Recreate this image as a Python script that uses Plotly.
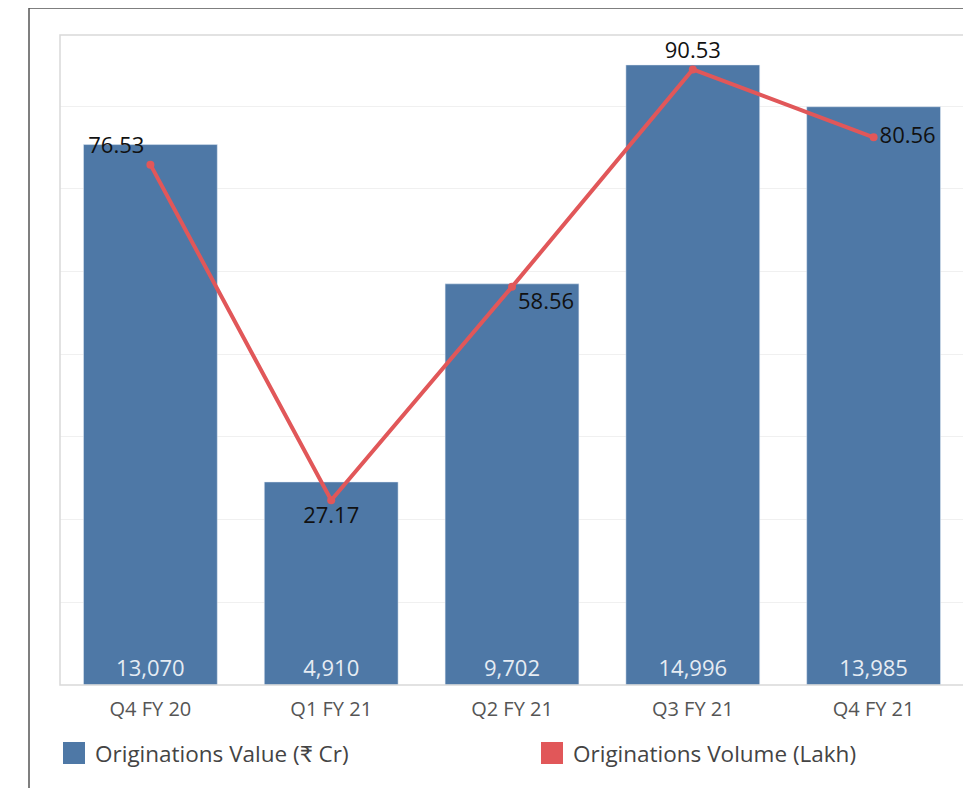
import plotly.graph_objects as go

quarters = ["Q4 FY 20", "Q1 FY 21", "Q2 FY 21", "Q3 FY 21", "Q4 FY 21"]
orig_value = [13070, 4910, 9702, 14996, 13985]
orig_volume = [76.53, 27.17, 58.56, 90.53, 80.56]
vol_label_pos = ["top left", "bottom center", "bottom right", "top center", "middle right"]
legend_names = ["Originations Value (₹ Cr)", "Originations Volume (Lakh)"]

BLUE = "#4E78A6"
RED = "#E15759"
FONT = "Open Sans, Lato, sans-serif"

# window pixel geometry (page body has an 8px margin)
OFF = 8
W, H = 971 - OFF, 788 - OFF
PL, PR, PT, PB = 60, 964, 35, 685  # plot area in window px


def px(x):
    return (x - PL) / (PR - PL)


def py(y):
    return (PB - y) / (PB - PT)


fig = go.Figure()
fig.add_trace(go.Bar(
    x=quarters, y=orig_value, marker_color=BLUE, name=legend_names[0],
    text=[f"{v:,}" for v in orig_value], textposition="inside",
    insidetextanchor="start", textangle=0,
    textfont=dict(color="#E6ECF3", size=22, family=FONT),
    showlegend=False, yaxis="y",
))
fig.add_trace(go.Scatter(
    x=quarters, y=orig_volume, mode="lines+markers+text", name=legend_names[1],
    line=dict(color=RED, width=4), marker=dict(color=RED, size=8),
    text=[f"{v:.2f}" for v in orig_volume], textposition=vol_label_pos,
    textfont=dict(color="#111111", size=22, family=FONT),
    showlegend=False, yaxis="y2", cliponaxis=False,
))

# manual legend
for name, col, x0 in zip(legend_names, [BLUE, RED], [63, 541]):
    fig.add_shape(type="rect", xref="paper", yref="paper",
                  x0=px(x0), x1=px(x0 + 22), y0=py(764), y1=py(742),
                  fillcolor=col, line=dict(width=0))
    fig.add_annotation(xref="paper", yref="paper", x=px(x0 + 30), y=py(753),
                       text=name, showarrow=False, xanchor="left", yanchor="middle",
                       font=dict(size=22.5, color="#444444", family=FONT))

# outer frame lines
fig.add_shape(type="line", xref="paper", yref="paper",
              x0=px(29), x1=px(29), y0=py(800), y1=py(8),
              line=dict(color="#555555", width=1.5))
fig.add_shape(type="line", xref="paper", yref="paper",
              x0=px(29), x1=px(975), y0=py(8), y1=py(8),
              line=dict(color="#555555", width=1.5))
# plot area border
fig.add_shape(type="rect", xref="paper", yref="paper", x0=0, x1=1, y0=0, y1=1,
              line=dict(color="#D9D9D9", width=1.5), layer="above")

fig.update_layout(
    width=W, height=H,
    margin=dict(l=PL - OFF, r=W - (PR - OFF), t=PT - OFF, b=H - (PB - OFF)),
    paper_bgcolor="white", plot_bgcolor="white",
    bargap=0.26,
    font=dict(family=FONT),
    xaxis=dict(tickfont=dict(size=20, color="#555555", family=FONT), showgrid=False,
               showline=False, ticks="", ticklabelstandoff=10),
    yaxis=dict(range=[0, 15720], dtick=2000, showgrid=True, gridcolor="#F0F0F0",
               showticklabels=False, zeroline=False, ticks=""),
    yaxis2=dict(range=[0, 95.6], overlaying="y", showgrid=False, showticklabels=False,
                zeroline=False),
)

fig.write_html("out.html")
